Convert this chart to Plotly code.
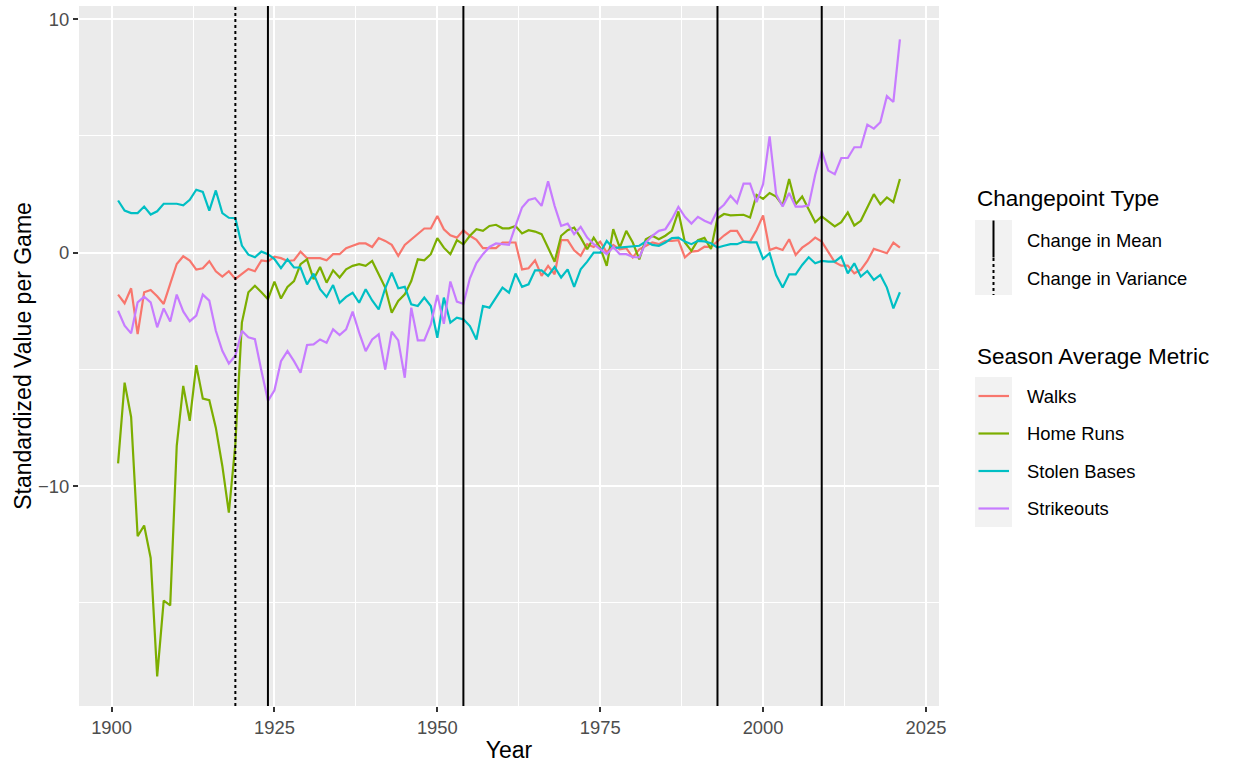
import plotly.graph_objects as go

years = list(range(1901, 2022))

walks = [
    -1.80, -2.17, -1.53, -3.49, -1.70, -1.60, -1.87, -2.20, -1.34, -0.49,
    -0.16, -0.34, -0.73, -0.67, -0.37, -0.80, -1.03, -0.80, -1.13, -0.92,
    -0.70, -0.80, -0.34, -0.38, -0.18, -0.24, -0.36, -0.33, 0.04, -0.24,
    -0.24, -0.24, -0.33, -0.07, -0.07, 0.19, 0.29, 0.39, 0.39, 0.24,
    0.62, 0.50, 0.33, -0.14, 0.33, 0.57, 0.79, 1.03, 1.03, 1.57,
    1.00, 0.74, 0.64, 0.95, 0.72, 0.55, 0.19, 0.19, 0.19, 0.43,
    0.43, 0.43, -0.72, -0.67, -0.33, -1.00, -0.57, -0.93, 0.53, 0.53,
    0.10, -0.14, 0.36, 0.24, 0.47, 0.00, 0.33, 0.14, 0.19, -0.21,
    0.14, 0.29, 0.43, 0.36, 0.50, 0.50, 0.53, -0.21, 0.04, 0.07,
    0.25, 0.23, 0.50, 0.73, 0.93, 0.93, 0.47, 0.47, 0.97, 1.59,
    0.11, 0.21, 0.11, 0.57, -0.10, 0.21, 0.40, 0.64, 0.47, 0.04,
    -0.41, -0.56, -0.56, -0.89, -0.74, -0.36, 0.16, 0.07, -0.03, 0.43,
    0.21,
]

home_runs = [
    -9.03, -5.57, -7.04, -12.15, -11.69, -13.08, -18.15, -14.91, -15.11, -8.28,
    -5.71, -7.21, -4.82, -6.25, -6.32, -7.50, -9.14, -11.14, -8.21, -3.00,
    -1.70, -1.42, -1.70, -2.00, -1.24, -1.97, -1.47, -1.22, -0.50, -0.29,
    -1.14, -0.62, -1.29, -0.76, -1.07, -0.72, -0.57, -0.50, -0.57, -0.36,
    -0.93, -1.50, -2.58, -2.07, -1.79, -1.22, -0.29, -0.33, -0.07, 0.62,
    0.21, -0.07, 0.53, 0.35, 0.72, 1.00, 0.93, 1.14, 1.19, 1.04,
    1.04, 1.14, 0.82, 0.96, 0.90, 0.79, 0.21, -0.39, 0.72, 0.96,
    1.07, 0.64, 0.14, 0.64, 0.21, -0.57, 1.00, 0.21, 0.93, 0.43,
    -0.29, 0.57, 0.72, 0.57, 0.72, 0.93, 1.76, 0.43, 0.07, 0.53,
    0.63, 0.15, 1.47, 1.65, 1.59, 1.59, 1.62, 1.50, 2.47, 2.30,
    2.55, 2.40, 2.02, 3.15, 2.07, 2.40, 1.83, 1.30, 1.55, 1.33,
    1.12, 1.30, 1.72, 1.16, 1.36, 1.93, 2.50, 2.07, 2.36, 2.16,
    3.15,
]

stolen_bases = [
    2.23, 1.80, 1.69, 1.69, 1.97, 1.63, 1.77, 2.09, 2.09, 2.09,
    2.02, 2.26, 2.69, 2.60, 1.80, 2.66, 1.69, 1.49, 1.47, 0.30,
    -0.09, -0.20, 0.04, -0.07, -0.28, -0.67, -0.29, -0.64, -0.64, -1.36,
    -0.90, -1.57, -1.90, -1.39, -2.15, -1.90, -1.72, -2.15, -1.57, -2.05,
    -2.43, -1.53, -0.86, -1.53, -1.47, -2.22, -2.29, -1.93, -2.29, -3.65,
    -1.93, -3.00, -2.79, -2.86, -3.15, -3.72, -2.29, -2.36, -1.93, -1.50,
    -1.72, -0.90, -1.47, -1.36, -0.76, -0.76, -1.00, -0.62, -1.07, -0.72,
    -1.47, -0.72, -0.39, 0.00, 0.00, 0.50, 0.19, 0.21, 0.24, 0.24,
    0.29, 0.47, 0.33, 0.29, 0.43, 0.62, 0.64, 0.47, 0.36, 0.50,
    0.48, 0.40, 0.21, 0.29, 0.36, 0.36, 0.47, 0.44, 0.44, -0.27,
    -0.03, -0.96, -1.50, -0.93, -0.93, -0.53, -0.20, -0.46, -0.36, -0.39,
    -0.39, -0.17, -0.89, -0.46, -1.03, -0.79, -1.17, -0.96, -1.50, -2.39,
    -1.70,
]

strikeouts = [
    -2.49, -3.13, -3.46, -2.13, -1.89, -2.13, -3.20, -2.39, -2.95, -1.80,
    -2.52, -2.95, -2.70, -1.80, -2.06, -3.35, -4.21, -4.75, -4.42, -3.35,
    -3.63, -3.71, -5.06, -6.35, -5.90, -4.65, -4.22, -4.65, -5.15, -3.96,
    -3.93, -3.72, -3.86, -3.29, -3.53, -3.29, -2.53, -3.43, -4.22, -3.72,
    -3.50, -5.01, -3.39, -3.76, -5.36, -2.36, -3.76, -3.76, -3.08, -1.82,
    -3.05, -1.24, -2.10, -2.20, -1.10, -0.45, -0.07, 0.24, 0.39, 0.36,
    0.33, 1.14, 1.93, 2.25, 2.33, 2.00, 3.05, 2.00, 1.14, 1.24,
    0.79, 1.10, 0.64, 0.36, 0.14, -0.07, 0.24, -0.07, -0.07, -0.19,
    -0.21, 0.43, 0.72, 0.93, 1.00, 1.43, 1.96, 1.53, 1.24, 1.53,
    1.36, 1.24, 1.80, 2.05, 2.43, 2.12, 2.95, 2.95, 2.16, 2.93,
    4.98, 2.50, 1.97, 2.55, 1.97, 1.97, 2.02, 3.33, 4.36, 3.51,
    3.36, 4.05, 4.05, 4.51, 4.51, 5.48, 5.31, 5.58, 6.70, 6.45,
    9.13,
]

metric_names = ["Walks", "Home Runs", "Stolen Bases", "Strikeouts"]
metric_colors = ["#F8766D", "#7CAE00", "#00BFC4", "#C77CFF"]

mean_changepoints = [1924, 1954, 1993, 2009]
variance_changepoints = [1919]

x_ticks = [1900, 1925, 1950, 1975, 2000, 2025]
y_ticks = [-10, 0, 10]

FONT = "Liberation Sans, Arial, sans-serif"
W, H = 1233, 763
PL, PR, PT, PB = 79, 939, 6, 706  # panel pixel box


def px(x):
    return (x - PL) / (PR - PL)


def py(y):
    return (PB - y) / (PB - PT)


fig = go.Figure()
for name, vals, col in zip(metric_names, [walks, home_runs, stolen_bases, strikeouts], metric_colors):
    fig.add_trace(go.Scatter(x=years, y=vals, mode="lines", name=name,
                             line=dict(color=col, width=2.2), showlegend=False))

shapes = []
for cp in mean_changepoints:
    shapes.append(dict(type="line", xref="x", yref="paper", x0=cp, x1=cp, y0=0, y1=1,
                       line=dict(color="black", width=2)))
for cp in variance_changepoints:
    shapes.append(dict(type="line", xref="x", yref="paper", x0=cp, x1=cp, y0=0, y1=1,
                       line=dict(color="black", width=2, dash="3px,3px")))

annotations = []
# --- custom legend: Changepoint Type ---
annotations.append(dict(text="Changepoint Type", xref="paper", yref="paper", x=px(975), y=py(199),
                        xanchor="left", yanchor="middle", showarrow=False,
                        font=dict(family=FONT, size=22.5, color="black")))
shapes.append(dict(type="rect", xref="paper", yref="paper", x0=px(975), x1=px(1012), y0=py(220), y1=py(295),
                   fillcolor="#F2F2F2", line=dict(width=0), layer="below"))
shapes.append(dict(type="line", xref="paper", yref="paper", x0=px(993.5), x1=px(993.5), y0=py(220.5), y1=py(257.5),
                   line=dict(color="black", width=2)))
shapes.append(dict(type="line", xref="paper", yref="paper", x0=px(993.5), x1=px(993.5), y0=py(258), y1=py(295),
                   line=dict(color="black", width=2, dash="3px,3px")))
for label, yy in zip(["Change in Mean", "Change in Variance"], [240.5, 278]):
    annotations.append(dict(text=label, xref="paper", yref="paper", x=px(1025), y=py(yy),
                            xanchor="left", yanchor="middle", showarrow=False,
                            font=dict(family=FONT, size=18.4, color="black")))

# --- custom legend: Season Average Metric ---
annotations.append(dict(text="Season Average Metric", xref="paper", yref="paper", x=px(975), y=py(356),
                        xanchor="left", yanchor="middle", showarrow=False,
                        font=dict(family=FONT, size=22.5, color="black")))
shapes.append(dict(type="rect", xref="paper", yref="paper", x0=px(975), x1=px(1012), y0=py(377), y1=py(527),
                   fillcolor="#F2F2F2", line=dict(width=0), layer="below"))
for i, (name, col) in enumerate(zip(metric_names, metric_colors)):
    yy = 396 + i * 37.5
    shapes.append(dict(type="line", xref="paper", yref="paper", x0=px(978.5), x1=px(1009), y0=py(yy), y1=py(yy),
                       line=dict(color=col, width=2.2)))
    annotations.append(dict(text=name, xref="paper", yref="paper", x=px(1025), y=py(yy),
                            xanchor="left", yanchor="middle", showarrow=False,
                            font=dict(family=FONT, size=18.4, color="black")))

axis_common = dict(
    showgrid=True, gridcolor="white", gridwidth=2, zeroline=False, showline=False,
    ticks="outside", ticklen=5, tickwidth=1.5, tickcolor="#333333",
    tickfont=dict(family=FONT, size=18.4, color="#4D4D4D"),
)

fig.update_layout(
    width=W, height=H,
    margin=dict(l=PL, r=W - PR, t=PT, b=H - PB, autoexpand=False),
    paper_bgcolor="white", plot_bgcolor="#EBEBEB",
    showlegend=False,
    shapes=shapes, annotations=annotations,
    font=dict(family=FONT),
    xaxis=dict(axis_common, range=[1895, 2027], tickvals=x_ticks,
               minor=dict(dtick=12.5, tick0=1900, showgrid=True, gridcolor="white", gridwidth=1, ticks=""),
               title=dict(text="Year", font=dict(family=FONT, size=23, color="black"), standoff=9)),
    yaxis=dict(axis_common, range=[-19.42, 10.56], tickvals=y_ticks,
               minor=dict(dtick=5, tick0=0, showgrid=True, gridcolor="white", gridwidth=1, ticks=""),
               title=dict(text="Standardized Value per Game", font=dict(family=FONT, size=23, color="black"),
                          standoff=0)),
)

fig.write_html("out.html", config={"displayModeBar": False},
               post_script="document.body.style.margin='0';document.body.style.overflow='hidden';")
